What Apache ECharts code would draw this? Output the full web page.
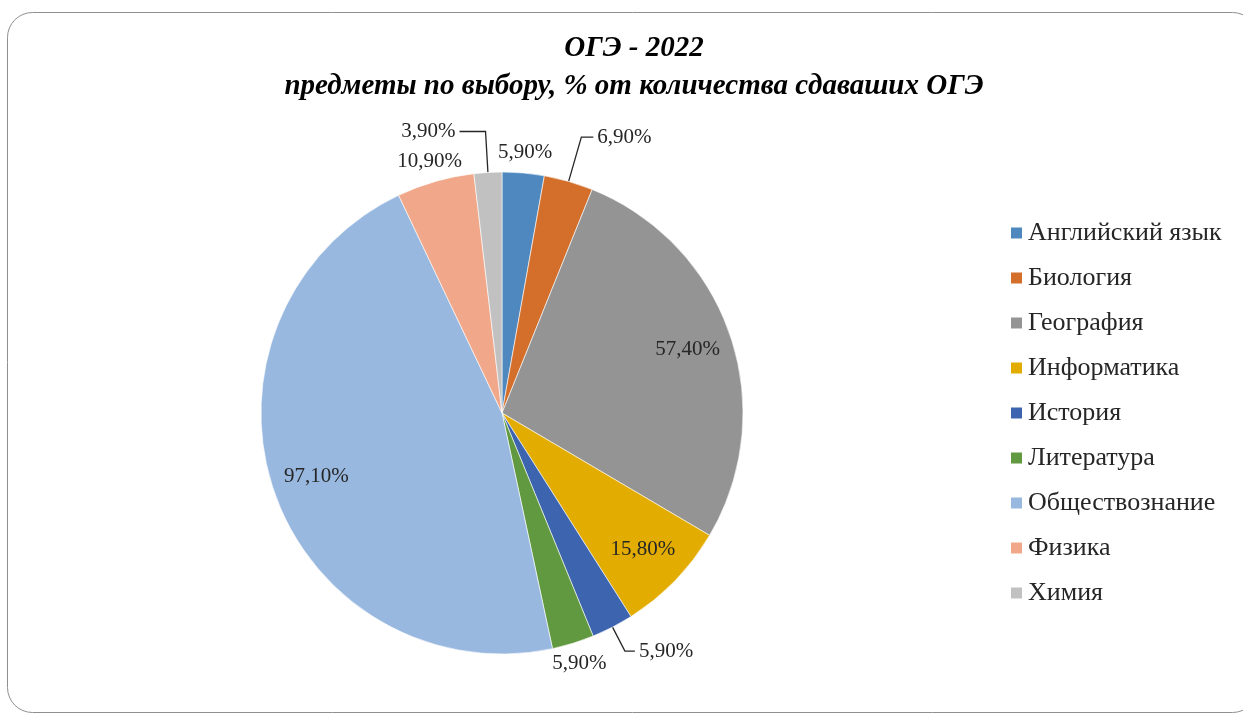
<!DOCTYPE html>
<html>
<head>
<meta charset="utf-8">
<title>ОГЭ - 2022</title>
<script src="https://cdn.jsdelivr.net/npm/echarts@6/dist/echarts.min.js"></script>
<style>
  html, body { margin: 0; padding: 0; background: #fff; }
  #main { width: 1243px; height: 713px; }
</style>
</head>
<body>
<div id="main"></div>
<script>
// data
const categories = ['Английский язык', 'Биология', 'География', 'Информатика', 'История',
  'Литература', 'Обществознание', 'Физика', 'Химия'];
const values = [5.9, 6.9, 57.4, 15.8, 5.9, 5.9, 97.1, 10.9, 3.9];
const colors = ['#4e88bf', '#d36f2b', '#949494', '#e3ac00', '#3d64ae',
  '#60993f', '#98b8df', '#f1a88a', '#c1c1c1'];

// where each label goes: inside the slice, just beyond the edge, or on a leader line
const labelPlace = ['near', 'line', 'inside', 'inside', 'line', 'near', 'inside', 'near', 'line'];
const leader = {
  'Биология': [46, 12],
  'История': [27, 10],
  'Химия': [41, 26]
};

const fontFamily = 'Liberation Serif';
const fmt = p => p.value.toFixed(2).replace('.', ',') + '%';
const labelText = { fontFamily: fontFamily, fontSize: 21, color: '#262626' };

const center = [502, 413];
const R = 241;

const mainData = categories.map((name, i) => {
  const item = {
    name: name,
    value: values[i],
    itemStyle: { color: colors[i] },
    label: { show: labelPlace[i] === 'line' }
  };
  if (leader[name]) {
    item.labelLine = { show: true, length: leader[name][0], length2: leader[name][1] };
  } else {
    item.labelLine = { show: false };
  }
  return item;
});

function overlayData(place) {
  return categories.map((name, i) => ({
    name: name,
    value: values[i],
    label: { show: labelPlace[i] === place }
  }));
}

const overlayBase = {
  type: 'pie',
  center: center,
  startAngle: 90,
  clockwise: true,
  silent: true,
  avoidLabelOverlap: false,
  itemStyle: { color: 'rgba(0,0,0,0)' },
  labelLine: { show: false },
  emphasis: { disabled: true }
};

const chart = echarts.init(document.getElementById('main'));
chart.setOption({
  animation: false,
  backgroundColor: '#fff',
  graphic: [{
    type: 'rect',
    shape: { x: 7.5, y: 12.5, width: 1250, height: 700, r: 25 },
    style: { fill: 'none', stroke: '#8f8f8f', lineWidth: 1 },
    silent: true,
    z: -1
  }],
  title: {
    text: 'ОГЭ - 2022\nпредметы по выбору, % от количества сдаваших ОГЭ',
    left: 634,
    textAlign: 'center',
    top: 30,
    padding: 0,
    textStyle: {
      fontFamily: fontFamily,
      fontSize: 29,
      fontWeight: 'bold',
      fontStyle: 'italic',
      color: '#000',
      lineHeight: 38
    }
  },
  legend: {
    orient: 'vertical',
    left: 1009,
    top: 220,
    padding: 0,
    itemWidth: 13,
    itemHeight: 13,
    itemGap: 19,
    icon: 'rect',
    data: categories,
    selectedMode: false,
    textStyle: { fontFamily: fontFamily, fontSize: 26, color: '#262626', lineHeight: 26 }
  },
  series: [
    {
      name: 'main',
      type: 'pie',
      center: center,
      radius: R,
      startAngle: 90,
      clockwise: true,
      avoidLabelOverlap: false,
      data: mainData,
      itemStyle: { borderColor: '#fff', borderWidth: 0.6 },
      label: Object.assign({ position: 'outside', formatter: fmt, distanceToLabelLine: 4 }, labelText),
      labelLine: { lineStyle: { color: '#262626', width: 1.3 } },
      emphasis: { disabled: true }
    },
    Object.assign({}, overlayBase, {
      name: 'inside',
      radius: [145, R],
      data: overlayData('inside'),
      label: Object.assign({ position: 'inside', formatter: fmt }, labelText)
    }),
    Object.assign({}, overlayBase, {
      name: 'near',
      radius: [241, 277],
      data: overlayData('near'),
      label: Object.assign({ position: 'inside', formatter: fmt }, labelText)
    })
  ]
});
</script>
</body>
</html>
